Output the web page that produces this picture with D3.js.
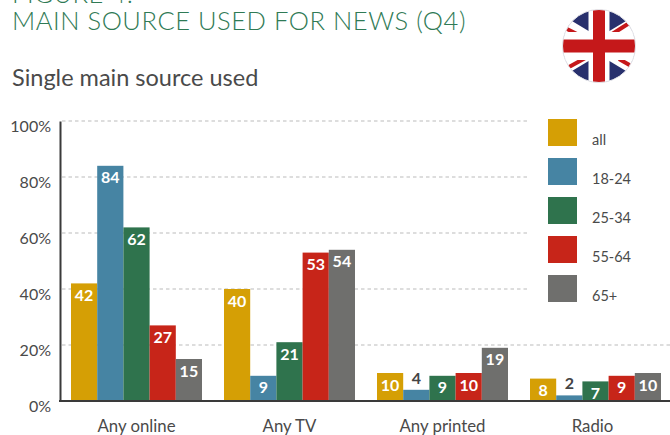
<!DOCTYPE html>
<html><head><meta charset="utf-8">
<script src="https://cdn.jsdelivr.net/npm/d3@7/dist/d3.min.js"></script>
<style>html,body{margin:0;padding:0;background:#fff}svg{display:block}text{font-family:Lato,"Open Sans",sans-serif}</style>
</head><body><svg id="c" width="670" height="435"></svg>
<script>
const categories=["Any online","Any TV","Any printed","Radio"];
const seriesNames=["all","18-24","25-34","55-64","65+"];
const seriesColors=["#d59f05","#4684a3","#2f734d","#c72519","#6f6f6d"];
const anyOnline=[42,84,62,27,15];
const anyTV=[40,9,21,53,54];
const anyPrinted=[10,4,9,10,19];
const radio=[8,2,7,9,10];
const tickValues=[0,20,40,60,80,100];
const table=[anyOnline,anyTV,anyPrinted,radio];

const svg=d3.select("#c");
const y=d3.scaleLinear().domain([0,100]).range([401,121]);
const x0=d3.scaleBand().domain(categories).range([71,661]).paddingInner(22/153);
const x1=d3.scaleBand().domain(seriesNames).range([0,x0.bandwidth()]);

// titles
svg.append("text").attr("x",12).attr("y",3).attr("font-size",25.5).attr("font-weight",300).attr("fill","#2f7a55").attr("letter-spacing",0.55).text("FIGURE 4:");
svg.append("text").attr("x",12).attr("y",30).attr("font-size",25.5).attr("font-weight",300).attr("fill","#2f7a55").attr("letter-spacing",0.55).text("MAIN SOURCE USED FOR NEWS (Q4)");
svg.append("text").attr("x",12).attr("y",86).attr("font-size",23.5).attr("fill","#4a4a4a").text("Single main source used");

// flag
const fx=599,fy=46,fr=36.5;
const defs=svg.append("defs");
defs.append("clipPath").attr("id","fc").append("circle").attr("cx",fx).attr("cy",fy).attr("r",fr);
const f=svg.append("g").attr("clip-path","url(#fc)");
f.append("rect").attr("x",fx-fr).attr("y",fy-fr).attr("width",2*fr).attr("height",2*fr).attr("fill","#28306d");
[[1,1],[1,-1]].forEach(([a,b])=>{
  f.append("line").attr("x1",fx-60*a).attr("y1",fy-36*b).attr("x2",fx+60*a).attr("y2",fy+36*b).attr("stroke","#fff").attr("stroke-width",15);
});
[[-36,-19,-18,-10],[10,-10,32,-24],[-30,21,-10,10],[20,13,34,21]].forEach(s=>{
  f.append("line").attr("x1",fx+s[0]).attr("y1",fy+s[1]).attr("x2",fx+s[2]).attr("y2",fy+s[3]).attr("stroke","#c5181a").attr("stroke-width",4);
});
f.append("rect").attr("x",fx-fr).attr("y",fy-14).attr("width",2*fr).attr("height",28).attr("fill","#fff");
f.append("rect").attr("x",fx-10.5).attr("y",fy-fr).attr("width",21).attr("height",2*fr).attr("fill","#fff");
f.append("rect").attr("x",fx-fr).attr("y",fy-6.5).attr("width",2*fr).attr("height",13).attr("fill","#c5181a");
f.append("rect").attr("x",fx-6).attr("y",fy-fr).attr("width",12).attr("height",2*fr).attr("fill","#c5181a");
svg.append("circle").attr("cx",fx).attr("cy",fy).attr("r",fr).attr("fill","none").attr("stroke","#e6e6ea").attr("stroke-width",1);

// grid
svg.append("g").selectAll("line").data(tickValues.filter(d=>d>0)).join("line")
  .attr("x1",62).attr("x2",d=>d===20?670:529).attr("y1",d=>y(d)).attr("y2",d=>y(d))
  .attr("stroke","#d2d2d2").attr("stroke-width",1.3).attr("stroke-dasharray","3.5 3");

// bars
const groups=svg.append("g").selectAll("g").data(table).join("g")
  .attr("transform",(d,i)=>`translate(${x0(categories[i])},0)`);
groups.selectAll("rect").data(d=>d).join("rect")
  .attr("x",(d,i)=>x1(seriesNames[i])).attr("y",d=>y(d))
  .attr("width",x1.bandwidth()).attr("height",d=>y(0)-y(d))
  .attr("fill",(d,i)=>seriesColors[i]);
groups.selectAll("text").data(d=>d).join("text")
  .attr("x",(d,i)=>x1(seriesNames[i])+x1.bandwidth()/2)
  .attr("y",d=>d<5?y(d)-6:y(d)+17.5)
  .attr("text-anchor","middle").attr("font-size",16).attr("font-weight",700)
  .attr("fill",d=>d<5?"#444":"#fff").text(d=>d);

// axes
const ax=svg.append("g").attr("transform","translate(60,0)")
  .call(d3.axisLeft(y).tickValues(tickValues).tickFormat(d=>d+"%").tickSize(0).tickPadding(9));
ax.select(".domain").attr("stroke","#3a3a3a").attr("stroke-width",2);
ax.selectAll("text").attr("font-size",16).attr("fill","#4a4a4a").attr("dy","0.85em").attr("y",-3).style("font-family","Lato");
const bx=svg.append("g").attr("transform","translate(0,401)")
  .call(d3.axisBottom(x0).tickSize(0).tickPadding(19));
bx.select(".domain").remove();
bx.selectAll("text").attr("font-size",16.8).attr("fill","#4a4a4a").style("font-family","Lato")
  .attr("dx",d=>d==="Radio"?-3:0);
svg.append("line").attr("x1",59).attr("x2",670).attr("y1",401).attr("y2",401).attr("stroke","#3a3a3a").attr("stroke-width",2);

// legend
const legendY=d3.scalePoint().domain(seriesNames).range([119,275]);
const lg=svg.append("g").selectAll("g").data(seriesNames).join("g").attr("transform",d=>`translate(548,${legendY(d)})`);
lg.append("rect").attr("width",29).attr("height",27).attr("fill",(d,i)=>seriesColors[i]);
lg.append("text").attr("x",44).attr("y",26).attr("font-size",14.5).attr("fill","#4a4a4a").text(d=>d);
</script></body></html>
